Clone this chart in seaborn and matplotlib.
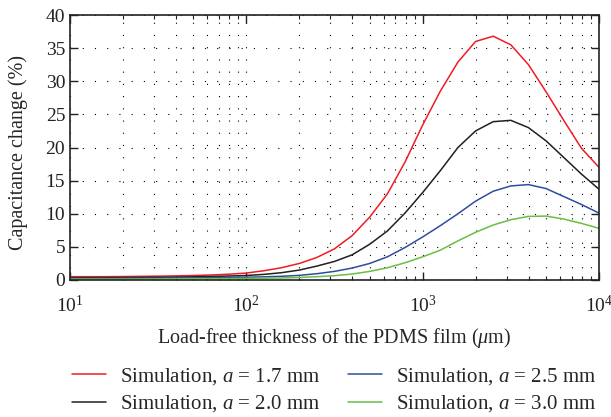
import matplotlib
matplotlib.use("Agg")
import matplotlib.pyplot as plt
import matplotlib.ticker as mticker
import numpy as np
import pandas as pd
import seaborn as sns

# load-free thickness samples (um)
thickness = [10, 12.6, 15.8, 20, 25.1, 31.6, 39.8, 50.1, 63.1, 79.4,
             100, 126, 158, 200, 251, 316, 398, 501, 631, 794,
             1000, 1259, 1585, 1995, 2512, 3162, 3981, 5012, 6310, 7943, 10000]

# capacitance change (%)
a17 = [0.5, 0.5, 0.5, 0.52, 0.55, 0.58, 0.62, 0.68, 0.76, 0.87,
       1.05, 1.4, 1.85, 2.5, 3.4, 4.7, 6.7, 9.5, 13.0, 17.8,
       23.4, 28.5, 32.9, 36.0, 36.8, 35.5, 32.5, 28.4, 24.1, 19.9, 17.0]
a20 = [0.35, 0.35, 0.36, 0.37, 0.39, 0.41, 0.44, 0.48, 0.53, 0.6,
       0.68, 0.85, 1.1, 1.5, 2.1, 2.8, 3.8, 5.4, 7.4, 10.1,
       13.2, 16.5, 20.0, 22.5, 23.9, 24.1, 23.0, 21.0, 18.5, 16.0, 13.7]
a25 = [0.25, 0.25, 0.25, 0.26, 0.27, 0.28, 0.3, 0.32, 0.35, 0.38,
       0.42, 0.48, 0.56, 0.7, 0.95, 1.3, 1.8, 2.5, 3.5, 4.9,
       6.5, 8.2, 10.0, 11.9, 13.4, 14.2, 14.4, 13.8, 12.6, 11.4, 10.1]
a30 = [0.15, 0.15, 0.15, 0.15, 0.16, 0.17, 0.18, 0.19, 0.2, 0.22,
       0.24, 0.27, 0.31, 0.38, 0.5, 0.65, 0.9, 1.3, 1.85, 2.6,
       3.5, 4.5, 5.9, 7.2, 8.3, 9.1, 9.6, 9.65, 9.2, 8.55, 7.8]

labels = ["Simulation, $a$ = 1.7 mm", "Simulation, $a$ = 2.0 mm",
          "Simulation, $a$ = 2.5 mm", "Simulation, $a$ = 3.0 mm"]
colors = ["#f01c24", "#231f20", "#2e4d9f", "#6abd45"]

sns.set_style("ticks")
plt.rcParams["font.family"] = ["Liberation Serif", "DejaVu Serif"]
plt.rcParams["mathtext.fontset"] = "custom"
plt.rcParams["mathtext.rm"] = "Liberation Serif"
plt.rcParams["mathtext.it"] = "Liberation Serif:italic"
plt.rcParams["font.size"] = 14

fig = plt.figure(figsize=(6.11, 4.17), dpi=100)
ax = fig.add_axes([70 / 611, 1 - 280 / 417, 529 / 611, 265 / 417])

for vals, lab, col in zip([a17, a20, a25, a30], labels, colors):
    df = pd.DataFrame({"t": thickness, "c": vals})
    sns.lineplot(data=df, x="t", y="c", ax=ax, color=col, lw=1.1, label=lab)

ax.set_xscale("log")
ax.set_xlim(10, 10000)
ax.set_ylim(0, 40)
ax.set_yticks(np.arange(0, 41, 5))
ax.xaxis.set_major_locator(mticker.LogLocator(base=10))
ax.xaxis.set_minor_locator(mticker.LogLocator(base=10, subs=np.arange(2, 10)))
ax.xaxis.set_minor_formatter(mticker.NullFormatter())

dots = (0, (1, 10))
ax.grid(which="both", axis="x", color="black", lw=0.8, linestyle=dots)
ax.grid(which="major", axis="y", color="black", lw=0.8, linestyle=dots)

for s in ax.spines.values():
    s.set_linewidth(1.2)
    s.set_color("#222222")
ax.tick_params(which="both", direction="in", top=True, right=True,
               labelsize=14, colors="#222222")
ax.tick_params(which="major", length=6, width=1)
ax.tick_params(which="minor", length=3, width=0.8)
ax.tick_params(axis="x", which="major", pad=11)

ax.set_xlabel("Load-free thickness of the PDMS film ($\\mu$m)", fontsize=14.5, labelpad=7)
ax.set_ylabel("Capacitance change (%)", fontsize=14.5)
ax.yaxis.set_label_coords(-0.079, 0.48)

ax.get_legend().remove()
h, l = ax.get_legend_handles_labels()
fig.legend(h, l, ncol=2, loc="center", bbox_to_anchor=(0.547, 0.064),
           frameon=False, fontsize=15, handlelength=1.63, handletextpad=0.67,
           columnspacing=1.35, labelspacing=0.3)

fig.savefig("out.png", dpi=100)
